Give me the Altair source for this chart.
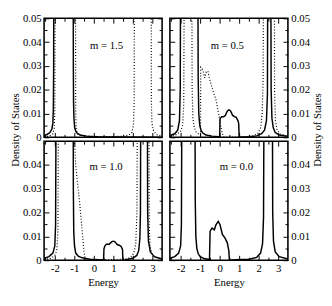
import altair as alt
import pandas as pd

# ---------------- data ----------------
# m = 1.5 (top-left)
s15_E = [-2.55, -2.4, -2.25, -2.15, -2.1, -2.075, -2.06, -2.05, -1.5, -1.06, -1.05, -1.04, -1.02, -0.98, -0.92, -0.85, -0.7, -0.4, 0.2, 1.0, 3.5]
s15_D = [0.0008, 0.0012, 0.002, 0.0035, 0.006, 0.012, 0.03, 0.08, 0.08, 0.08, 0.03, 0.015, 0.008, 0.004, 0.0025, 0.0017, 0.001, 0.0005, 0.0002, 0.0001, 0.0]
d15_E = [-2.55, -2.3, -2.1, -2.03, -2.0, -1.98, -0.94, -0.93, -0.9, -0.8, 0.0, 1.5, 1.8, 1.95, 2.03, 2.07, 2.08, 2.94, 2.95, 2.98, 3.05, 3.2, 3.5]
d15_D = [0.0002, 0.0005, 0.0015, 0.004, 0.012, 0.08, 0.08, 0.01, 0.003, 0.001, 0.0002, 0.0004, 0.001, 0.002, 0.005, 0.015, 0.08, 0.08, 0.015, 0.006, 0.003, 0.0012, 0.0005]

# m = 0.5 (top-right)
s05_E = [-2.55, -2.3, -2.15, -2.06, -2.02, -2.0, -1.12, -1.1, -1.07, -1.02, -0.95, -0.85, -0.7, -0.4, -0.05, 0.0, 0.02, 0.1, 0.2, 0.3, 0.36, 0.42, 0.48, 0.55, 0.6, 0.66, 0.75, 0.85, 0.95, 0.98, 1.0, 1.5, 1.9, 2.15, 2.3, 2.4, 2.45, 2.47, 2.62, 2.64, 2.68, 2.75, 2.85, 3.05, 3.5]
s05_D = [0.0008, 0.0015, 0.003, 0.007, 0.02, 0.08, 0.08, 0.025, 0.01, 0.005, 0.0028, 0.0017, 0.001, 0.0005, 0.0002, 0.0002, 0.0078, 0.0086, 0.0086, 0.0093, 0.0105, 0.0112, 0.0115, 0.0112, 0.0104, 0.0093, 0.0087, 0.0084, 0.0068, 0.0055, 0.0, 0.0002, 0.0006, 0.0015, 0.003, 0.007, 0.018, 0.08, 0.08, 0.02, 0.008, 0.004, 0.002, 0.001, 0.0004]
d05_E = [-2.55, -2.25, -2.0, -1.9, -1.84, -1.81, -1.43, -1.41, -1.37, -1.3, -1.2, -1.05, -0.98, -0.97, -0.91, -0.85, -0.77, -0.69, -0.6, -0.52, -0.36, -0.19, -0.11, -0.02, 0.05, 0.14, 0.22, 1.0, 1.7, 1.95, 2.1, 2.18, 2.23, 2.25, 2.8, 2.82, 2.86, 2.95, 3.1, 3.5]
d05_D = [0.0004, 0.001, 0.0025, 0.005, 0.014, 0.08, 0.08, 0.02, 0.008, 0.004, 0.0022, 0.0012, 0.001, 0.0295, 0.029, 0.028, 0.025, 0.0275, 0.0278, 0.0247, 0.020, 0.0159, 0.0124, 0.0083, 0.005, 0.0016, 0.0, 0.0001, 0.0005, 0.0015, 0.004, 0.01, 0.025, 0.08, 0.08, 0.018, 0.007, 0.003, 0.0014, 0.0005]

# m = 1.0 (bottom-left)
s10_E = [-2.55, -2.3, -2.1, -2.0, -1.96, -1.93, -1.06, -1.05, -1.03, -0.99, -0.93, -0.8, -0.6, -0.2, 0.48, 0.5, 0.52, 0.56, 0.62, 0.7, 0.78, 0.86, 0.93, 1.0, 1.07, 1.13, 1.2, 1.3, 1.4, 1.47, 1.49, 1.6, 2.0, 2.2, 2.3, 2.36, 2.39, 2.41, 2.74, 2.76, 2.8, 2.9, 3.1, 3.5]
s10_D = [0.0008, 0.0015, 0.003, 0.006, 0.015, 0.08, 0.08, 0.03, 0.012, 0.006, 0.003, 0.0017, 0.001, 0.0004, 0.0001, 0.0001, 0.0048, 0.0058, 0.0066, 0.0068, 0.0066, 0.0073, 0.0078, 0.008, 0.0078, 0.0072, 0.0066, 0.0063, 0.0058, 0.0045, 0.0, 0.0001, 0.0008, 0.002, 0.004, 0.009, 0.02, 0.08, 0.08, 0.02, 0.008, 0.0035, 0.0015, 0.0005]
d10_E = [-2.55, -2.2, -2.0, -1.9, -1.84, -1.81, -1.0, -0.99, -0.93, -0.83, -0.73, -0.61, -0.51, -0.43, 0.5, 1.6, 1.9, 2.05, 2.15, 2.21, 2.24, 2.82, 2.84, 2.88, 2.98, 3.15, 3.5]
d10_D = [0.0002, 0.0008, 0.002, 0.004, 0.012, 0.08, 0.08, 0.05, 0.040, 0.032, 0.0245, 0.0135, 0.004, 0.0, 0.0001, 0.0004, 0.0012, 0.003, 0.007, 0.02, 0.08, 0.08, 0.015, 0.006, 0.0025, 0.0012, 0.0004]

# m = 0.0 (bottom-right)
s00_E = [-2.55, -2.3, -2.1, -2.0, -1.96, -1.93, -1.27, -1.25, -1.22, -1.17, -1.1, -1.0, -0.8, -0.53, -0.52, -0.49, -0.39, -0.27, -0.19, -0.07, 0.02, 0.14, 0.27, 0.39, 0.47, 0.5, 0.8, 1.5, 1.9, 2.1, 2.2, 2.25, 2.28, 2.7, 2.72, 2.76, 2.85, 3.05, 3.5]
s00_D = [0.0008, 0.0015, 0.003, 0.006, 0.015, 0.08, 0.08, 0.025, 0.01, 0.005, 0.0028, 0.0015, 0.0007, 0.0003, 0.0003, 0.0122, 0.0135, 0.0128, 0.0149, 0.0163, 0.0149, 0.0108, 0.0094, 0.0074, 0.004, 0.0, 0.0002, 0.0004, 0.0012, 0.003, 0.007, 0.018, 0.08, 0.08, 0.02, 0.008, 0.0035, 0.0015, 0.0005]
d00_E = []
d00_D = []

labels = ["m = 1.5", "m = 0.5", "m = 1.0", "m = 0.0"]
label_E = [0.65, 0.39, 0.63, 0.86]
label_D = [0.0385, 0.0385, 0.039, 0.039]

x_major = [-2, -1, 0, 1, 2, 3]
x_minor = [-2.5, -1.5, -0.5, 0.5, 1.5, 2.5]
y_major_top = [0, 0.01, 0.02, 0.03, 0.04, 0.05]
y_major_bot = [0, 0.01, 0.02, 0.03, 0.04]
y_minor = [0.005, 0.015, 0.025, 0.035, 0.045]

XDOM = [-2.55, 3.5]
YDOM = [0, 0.05]
FONT = "Liberation Serif"
W = 121
H = 122
MAJ = 5
MIN = 3


def ax(orient, values, size, labels=False, title=None, **kw):
    return alt.Axis(
        orient=orient, values=values, tickSize=size, offset=-size, domain=False,
        grid=False, labels=labels, title=title, tickColor="black", tickWidth=1,
        labelFont=FONT, labelFontSize=11, labelColor="black", labelPadding=3,
        titleFont=FONT, titleFontSize=11, titleFontWeight="normal", titleColor="black",
        minExtent=0, **kw)


def panel(sE, sD, dE, dD, idx, is_left, is_top):
    xs = alt.Scale(domain=XDOM, nice=False, zero=False)
    ys = alt.Scale(domain=YDOM, nice=False, zero=False)
    yvals = y_major_top if is_top else y_major_bot
    ylab = "datum.value == 0 ? '0' : format(datum.value, '.2f')"
    xlab = "'' + datum.value"

    if is_top:
        xb = ax("bottom", x_major, MAJ)
    else:
        xb = ax("bottom", x_major, MAJ, labels=True, title="Energy", labelExpr=xlab, titlePadding=3)
    if is_left:
        if is_top:
            yl = ax("left", yvals, MAJ, labels=True, title="Density of States", labelExpr=ylab,
                    titlePadding=2, titleY=H - 8)
        else:
            yl = ax("left", yvals, MAJ, labels=True, labelExpr=ylab)
    else:
        yl = ax("left", yvals, MAJ)
    if not is_left:
        if is_top:
            yr = ax("right", yvals, MAJ, labels=True, title="Density of States", labelExpr=ylab,
                    titlePadding=2, titleY=H - 8, titleAngle=270, titleBaseline="top")
        else:
            yr = ax("right", yvals, MAJ, labels=True, labelExpr=ylab)
    else:
        yr = ax("right", yvals, MAJ)

    sdf = pd.DataFrame({"E": sE, "D": sD})
    ddf = pd.DataFrame({"E": dE, "D": dD})
    ldf = pd.DataFrame({"E": [label_E[idx]], "D": [label_D[idx]], "t": [labels[idx]]})

    solid = alt.Chart(sdf).mark_line(color="black", strokeWidth=1.5, clip=True).encode(
        x=alt.X("E:Q", scale=xs, axis=xb), y=alt.Y("D:Q", scale=ys, axis=yl))
    text = alt.Chart(ldf).mark_text(font=FONT, fontSize=11, color="black").encode(
        x=alt.X("E:Q", scale=xs, axis=ax("top", x_major, MAJ)),
        y=alt.Y("D:Q", scale=ys, axis=yr), text="t:N")
    ghost = alt.Chart(ldf).mark_point(opacity=0).encode(
        x=alt.X("E:Q", scale=xs, axis=ax("top", x_minor, MIN)),
        y=alt.Y("D:Q", scale=ys, axis=ax("right", y_minor, MIN)))
    if len(dE):
        minor = alt.Chart(ddf).mark_line(color="black", strokeWidth=1.2, strokeDash=[1, 2], clip=True).encode(
            x=alt.X("E:Q", scale=xs, axis=ax("bottom", x_minor, MIN)),
            y=alt.Y("D:Q", scale=ys, axis=ax("left", y_minor, MIN)))
    else:
        minor = alt.Chart(sdf).mark_point(opacity=0).encode(
            x=alt.X("E:Q", scale=xs, axis=ax("bottom", x_minor, MIN)),
            y=alt.Y("D:Q", scale=ys, axis=ax("left", y_minor, MIN)))
    return alt.layer(solid, minor, text, ghost).resolve_axis(
        x="independent", y="independent").properties(width=W, height=H)


tl = panel(s15_E, s15_D, d15_E, d15_D, 0, True, True)
tr = panel(s05_E, s05_D, d05_E, d05_D, 1, False, True)
bl = panel(s10_E, s10_D, d10_E, d10_D, 2, True, False)
br = panel(s00_E, s00_D, d00_E, d00_D, 3, False, False)

chart = alt.concat(
    tl, tr, bl, br, columns=2,
    spacing=alt.RowColnumber(row=4, column=8), bounds="flush",
).properties(padding=0).configure_view(stroke="black", strokeWidth=1.6)

chart.save("out.html", embed_options={"renderer": "svg", "actions": False})
